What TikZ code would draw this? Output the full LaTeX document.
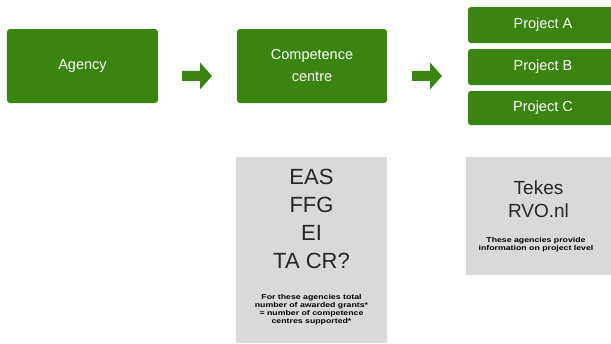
\documentclass[tikz,border=0pt]{standalone}
\usepackage{fontspec}
\setmainfont{Liberation Sans}
\newfontfamily\widebold[FakeStretch=1.25]{Liberation Sans Bold}
\definecolor{boxgreen}{HTML}{3A8411}
\definecolor{boxgray}{HTML}{D9D9D9}
\begin{document}
\begin{tikzpicture}[x=1bp,y=-1bp,
  greenbox/.style={fill=boxgreen,rounded corners=3bp,inner sep=0pt,text=white,align=center,font=\fontsize{14.5bp}{22bp}\selectfont},
  graybox/.style={fill=boxgray,inner sep=0pt},
  bigtext/.style={align=center,font=\fontsize{22bp}{28bp}\selectfont,text=black!85},
  smalltext/.style={align=center,font=\fontsize{7bp}{8bp}\widebold,text=black}]
\useasboundingbox (0,0) rectangle (611,343);
% top row
\node[greenbox,minimum width=151bp,minimum height=74bp] (agency) at (82.5,66) {Agency};
\node[greenbox,minimum width=150bp,minimum height=74bp] (cc) at (312,66) {Competence\\centre};
\node[greenbox,minimum width=150bp,minimum height=36bp] (pa) at (543,25) {Project A};
\node[greenbox,minimum width=150bp,minimum height=36bp] (pb) at (543,67) {Project B};
\node[greenbox,minimum width=150bp,minimum height=34bp] (pc) at (543,108) {Project C};
% block arrows
\coordinate (a1) at (182,66);
\coordinate (a2) at (412,66);
\foreach \c in {a1,a2}{
  \fill[boxgreen] ([yshift=-5]\c) -- ++(18,0) -- ++(0,-8.5) -- ++(12,13.5) -- ++(-12,13.5) -- ++(0,-8.5) -- ++(-18,0) -- cycle;
}
% gray boxes
\fill[boxgray] (236,157) rectangle (387,343);
\fill[boxgray] (466,157) rectangle (611,275);
\node[bigtext] (left) at (311.5,219) {EAS\\FFG\\EI\\TA CR?};
\node[smalltext] (leftnote) at (311.5,310) {For these agencies total\\number of awarded grants*\\= number of competence\\centres supported*};
\node[bigtext,font=\fontsize{19bp}{23bp}\selectfont] (right) at (538.5,199) {Tekes\\RVO.nl};
\node[smalltext] (rightnote) at (536,245) {These agencies provide\\information on project level};
\end{tikzpicture}
\end{document}
